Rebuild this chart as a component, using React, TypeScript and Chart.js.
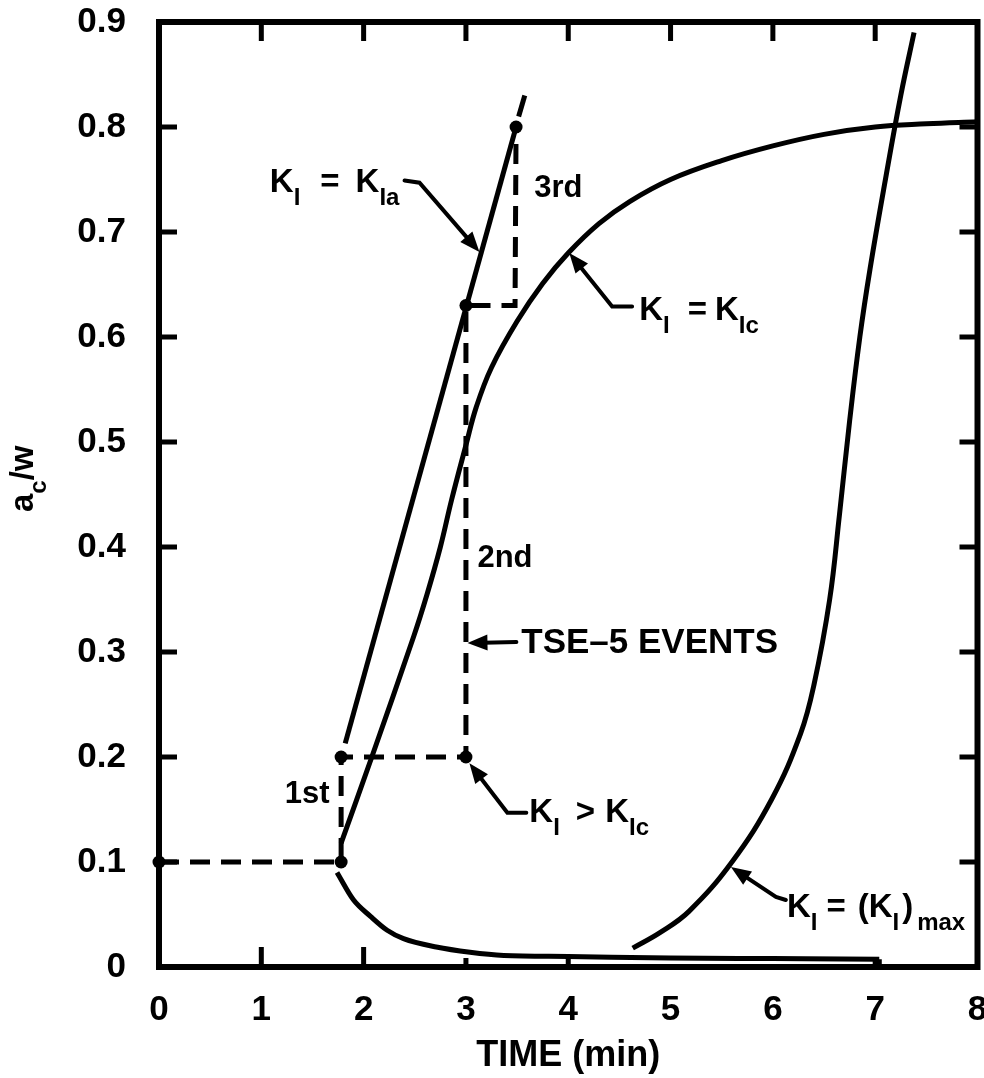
import React, { useEffect, useRef } from 'react';
import { Chart, registerables } from 'chart.js';

Chart.register(...registerables);

const FONT = '"Liberation Sans", Arial, Helvetica, sans-serif';

// ---- axis ticks ----
const xTickValues = [0, 1, 2, 3, 4, 5, 6, 7, 8];
const yTickValues = [0, 0.1, 0.2, 0.3, 0.4, 0.5, 0.6, 0.7, 0.8, 0.9];

// ---- K_I = K_Ic curve ----
const kIcTime = [1.78, 2.08, 2.49, 2.62, 2.75, 2.86, 3.0, 3.1, 3.25, 3.5, 3.75, 4.0, 4.3, 4.6, 5.0, 5.5, 6.0, 6.5, 7.0, 7.5, 8.0];
const kIcDepth = [0.118, 0.2, 0.315, 0.355, 0.4, 0.445, 0.497, 0.533, 0.571, 0.615, 0.651, 0.68, 0.708, 0.729, 0.75, 0.768, 0.782, 0.793, 0.8, 0.803, 0.805];

// ---- K_I = K_Ia line ----
const kIaTime = [1.82, 3.49];
const kIaDepth = [0.213, 0.8];
const kIaExtTime = [3.515, 3.575];
const kIaExtDepth = [0.81, 0.83];

// ---- lower branch (decreasing) ----
const lowTime = [1.74, 1.9, 2.07, 2.23, 2.39, 2.71, 3.04, 3.37, 4.0, 5.0, 6.0, 7.04];
const lowDepth = [0.09, 0.064, 0.048, 0.035, 0.027, 0.019, 0.014, 0.011, 0.01, 0.0085, 0.008, 0.0075];
const lowDropTime = [7.04, 7.04];
const lowDropDepth = [0.0075, 0];

// ---- K_I = (K_I)max curve ----
const kMaxTime = [4.63, 4.9, 5.18, 5.6, 5.99, 6.27, 6.4, 6.555, 6.65, 6.75, 6.85, 6.95, 7.1, 7.25, 7.38];
const kMaxDepth = [0.018, 0.033, 0.053, 0.1, 0.16, 0.222, 0.268, 0.35, 0.43, 0.52, 0.6, 0.665, 0.75, 0.83, 0.89];

// ---- TSE-5 events (dots and dashed steps) ----
const eventTime = [0, 1.78, 1.78, 3.0, 3.0, 3.49];
const eventDepth = [0.1, 0.1, 0.2, 0.2, 0.63, 0.8];
const stepTime = [0, 1.78, 1.78, 3.0, 3.0, 3.48, 3.49];
const stepDepth = [0.1, 0.1, 0.2, 0.2, 0.63, 0.63, 0.8];

const zip = (xs: number[], ys: number[]) => xs.map((x, i) => ({ x, y: ys[i] }));

type Part = { t?: string; sub?: boolean; gap?: number };

const labels: { x: number; y: number; size: number; parts: Part[] }[] = [
  { x: 1.083, y: 0.738, size: 33, parts: [{ t: 'K' }, { t: 'I', sub: true }, { gap: 20 }, { t: '=' }, { gap: 16 }, { t: 'K' }, { t: 'Ia', sub: true }] },
  { x: 3.668, y: 0.733, size: 31, parts: [{ t: '3rd' }] },
  { x: 4.693, y: 0.616, size: 33, parts: [{ t: 'K' }, { t: 'I', sub: true }, { gap: 18 }, { t: '=' }, { gap: 8 }, { t: 'K' }, { t: 'Ic', sub: true }] },
  { x: 3.112, y: 0.381, size: 31, parts: [{ t: '2nd' }] },
  { x: 3.541, y: 0.299, size: 35, parts: [{ t: 'TSE\u20135 EVENTS' }] },
  { x: 3.62, y: 0.138, size: 33, parts: [{ t: 'K' }, { t: 'I', sub: true }, { gap: 16 }, { t: '>' }, { gap: 10 }, { t: 'K' }, { t: 'Ic', sub: true }] },
  { x: 6.137, y: 0.0476, size: 33, parts: [{ t: 'K' }, { t: 'I', sub: true }, { gap: 9 }, { t: '=' }, { gap: 12 }, { t: '(K' }, { t: 'I', sub: true }, { gap: 3 }, { t: ')' }, { gap: 4 }, { t: 'max', sub: true }] },
  { x: 1.229, y: 0.156, size: 31, parts: [{ t: '1st' }] },
];

const arrows: number[][][] = [
  [[2.40, 0.749], [2.546, 0.747], [3.132, 0.681]],
  [[4.624, 0.629], [4.429, 0.629], [4.01, 0.68]],
  [[3.493, 0.3095], [3.015, 0.3086]],
  [[3.59, 0.147], [3.405, 0.147], [3.034, 0.194]],
  [[6.127, 0.0638], [6.03, 0.0667], [5.59, 0.0952]],
];

function drawRich(ctx: CanvasRenderingContext2D, x: number, y: number, parts: Part[], size: number) {
  const subSize = Math.round(size * 0.72);
  const drop = Math.round(size * 0.4);
  let cx = x;
  for (const p of parts) {
    if (p.gap) { cx += p.gap; continue; }
    const t = p.t || '';
    ctx.font = `bold ${p.sub ? subSize : size}px ${FONT}`;
    ctx.fillText(t, cx, p.sub ? y + drop : y);
    cx += ctx.measureText(t).width;
  }
  return cx - x;
}

function richWidth(ctx: CanvasRenderingContext2D, parts: Part[], size: number) {
  const subSize = Math.round(size * 0.72);
  let w = 0;
  for (const p of parts) {
    if (p.gap) { w += p.gap; continue; }
    ctx.font = `bold ${p.sub ? subSize : size}px ${FONT}`;
    w += ctx.measureText(p.t || '').width;
  }
  return w;
}

const overlay = {
  id: 'overlay',
  afterDatasetsDraw(chart: any) {
    const { ctx, chartArea: a, scales } = chart;
    const xs = scales.x;
    const ys = scales.y;
    const px = (v: number) => xs.getPixelForValue(v);
    const py = (v: number) => ys.getPixelForValue(v);
    ctx.save();
    ctx.strokeStyle = '#000';
    ctx.fillStyle = '#000';
    ctx.setLineDash([]);

    // frame
    ctx.lineWidth = 6;
    ctx.lineJoin = 'miter';
    ctx.strokeRect(a.left, a.top, a.right - a.left, a.bottom - a.top);

    // inward tick marks
    ctx.lineWidth = 5;
    const bottomLen = [20, 20, 9, 9, 3, 3, 9];
    xTickValues.slice(1, -1).forEach((v, i) => {
      const x = px(v);
      ctx.beginPath();
      ctx.moveTo(x, a.top);
      ctx.lineTo(x, a.top + 19);
      ctx.moveTo(x, a.bottom);
      ctx.lineTo(x, a.bottom - bottomLen[i]);
      ctx.stroke();
    });
    yTickValues.slice(1, -1).forEach((v) => {
      const y = py(v);
      ctx.beginPath();
      ctx.moveTo(a.left, y);
      ctx.lineTo(a.left + 18, y);
      ctx.moveTo(a.right, y);
      ctx.lineTo(a.right - 18, y);
      ctx.stroke();
    });

    // arrows
    ctx.lineWidth = 4;
    ctx.lineCap = 'round';
    for (const path of arrows) {
      const pts = path.map(([dx, dy]) => [px(dx), py(dy)]);
      const n = pts.length;
      const [x1, y1] = pts[n - 2];
      const [x2, y2] = pts[n - 1];
      const ang = Math.atan2(y2 - y1, x2 - x1);
      const L = 20, W = 8;
      const c = Math.cos(ang), s = Math.sin(ang);
      ctx.beginPath();
      ctx.moveTo(pts[0][0], pts[0][1]);
      for (let i = 1; i < n - 1; i++) ctx.lineTo(pts[i][0], pts[i][1]);
      ctx.lineTo(x2 - L * 0.8 * c, y2 - L * 0.8 * s);
      ctx.stroke();
      ctx.beginPath();
      ctx.moveTo(x2, y2);
      ctx.lineTo(x2 - L * c + W * s, y2 - L * s - W * c);
      ctx.lineTo(x2 - L * c - W * s, y2 - L * s + W * c);
      ctx.closePath();
      ctx.fill();
    }

    // labels
    ctx.textAlign = 'left';
    ctx.textBaseline = 'alphabetic';
    for (const lb of labels) {
      drawRich(ctx, px(lb.x), py(lb.y), lb.parts, lb.size);
    }

    // y axis title a_c/w (rotated)
    const yTitle: Part[] = [{ t: 'a' }, { t: 'c', sub: true }, { t: '/w' }];
    const w = richWidth(ctx, yTitle, 33);
    ctx.translate(ys.left + 33, py(0.465));
    ctx.rotate(-Math.PI / 2);
    drawRich(ctx, -w / 2, 0, yTitle, 33);
    ctx.restore();
  },
};

export default function App() {
  const ref = useRef<HTMLCanvasElement | null>(null);

  useEffect(() => {
    if (!ref.current) return;
    const solid = { borderColor: '#000', borderWidth: 5, pointRadius: 0, fill: false, clip: false as any };
    const dashed = { ...solid, borderDash: [20, 11] };
    const chart = new Chart(ref.current, {
      type: 'line',
      data: {
        datasets: [
          { ...solid, data: zip(kIcTime, kIcDepth), tension: 0.4 },
          { ...solid, data: zip(kIaTime, kIaDepth), tension: 0 },
          { ...solid, data: zip(kIaExtTime, kIaExtDepth), tension: 0 },
          { ...solid, data: zip(lowTime, lowDepth), cubicInterpolationMode: 'monotone' },
          { ...solid, data: zip(lowDropTime, lowDropDepth), tension: 0 },
          { ...solid, data: zip(kMaxTime, kMaxDepth), tension: 0.4 },
          { ...dashed, data: zip(stepTime, stepDepth), tension: 0 },
          {
            data: zip(eventTime, eventDepth),
            showLine: false,
            pointRadius: 6.5,
            pointBackgroundColor: '#000',
            pointBorderWidth: 0,
            borderColor: '#000',
            clip: false as any,
          },
        ] as any,
      },
      options: {
        animation: false,
        responsive: false,
        devicePixelRatio: 1,
        layout: { padding: { left: 0, right: 5, top: 22, bottom: 0 } },
        plugins: { legend: { display: false }, tooltip: { enabled: false } },
        scales: {
          x: {
            type: 'linear',
            min: 0,
            max: 8,
            afterBuildTicks: (s: any) => { s.ticks = xTickValues.map((v) => ({ value: v })); },
            afterFit: (s: any) => { s.height = 111; s.paddingLeft = 0; s.paddingRight = 0; },
            grid: { display: false, drawTicks: false },
            border: { display: false },
            ticks: {
              color: '#000',
              padding: 22,
              font: { family: FONT, weight: 'bold', size: 35 },
              callback: (v: any) => String(v),
            },
            title: {
              display: true,
              text: 'TIME (min)',
              color: '#000',
              padding: { top: 0, bottom: 0 },
              font: { family: FONT, weight: 'bold', size: 36 },
            },
          },
          y: {
            type: 'linear',
            min: 0,
            max: 0.9,
            afterBuildTicks: (s: any) => { s.ticks = yTickValues.map((v) => ({ value: v })); },
            afterFit: (s: any) => { s.width = 159; s.paddingTop = 0; s.paddingBottom = 0; },
            grid: { display: false, drawTicks: false },
            border: { display: false },
            ticks: {
              color: '#000',
              padding: 33,
              font: { family: FONT, weight: 'bold', size: 35 },
              callback: (v: any) => (Number(v) === 0 ? '0' : Number(v).toFixed(1)),
            },
          },
        },
      } as any,
      plugins: [overlay],
    });
    return () => chart.destroy();
  }, []);

  return (
    <div style={{ position: 'fixed', left: 0, top: 0, width: 984, height: 1078, background: '#fff' }}>
      <canvas ref={ref} width={984} height={1078} style={{ display: 'block' }} />
    </div>
  );
}
